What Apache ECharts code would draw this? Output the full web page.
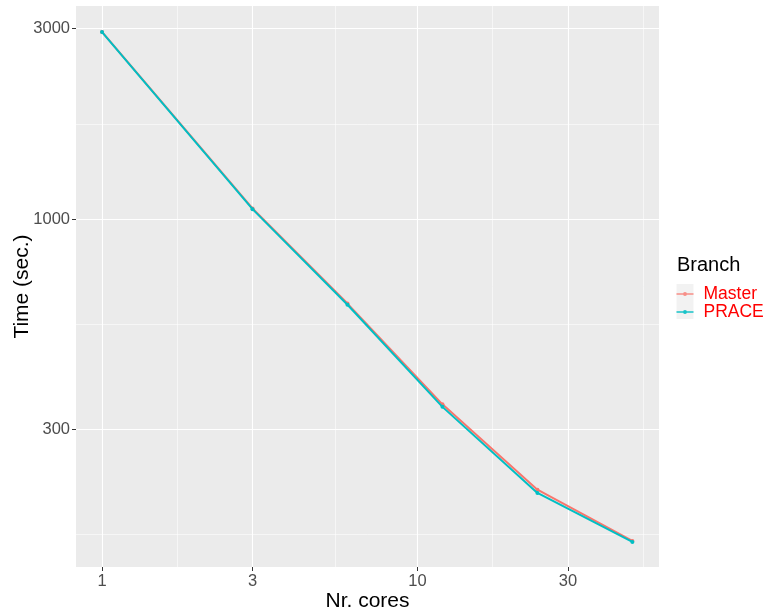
<!DOCTYPE html>
<html><head><meta charset="utf-8">
<script src="https://cdn.jsdelivr.net/npm/echarts@6/dist/echarts.min.js"></script>
<style>html,body{margin:0;padding:0;background:#fff}#c{width:768px;height:614px}</style>
</head><body><div id="c"></div>
<script>
const cores = [1, 3, 6, 12, 24, 48];
const master = [2935, 1065, 617, 346, 212, 158];
const prace = [2931, 1061, 613, 341, 208, 157];
const xTicks = [1, 3, 10, 30];
const yTicks = [300, 1000, 3000];
const xMinor = [1.732, 5.477, 17.32, 51.96];
const yMinor = [164.3, 547.7, 1732];

const keyIcon = 'path://M0,1.25H17V2.75H0Z M10.5,2A2,2 0 1 1 6.5,2A2,2 0 1 1 10.5,2Z';
const chart = echarts.init(document.getElementById('c'));
chart.setOption({
  animation: false,
  backgroundColor: '#ffffff',
  grid: {left: 76, right: 109, top: 6, bottom: 47, show: true, backgroundColor: '#EBEBEB', borderWidth: 0, outerBoundsMode: 'none', containLabel: false},
  xAxis: {
    type: 'log', logBase: 10, min: 0.827, max: 58.3,
    name: 'Nr. cores', nameLocation: 'middle', nameGap: 24, nameMoveOverlap: false,
    nameTextStyle: {fontSize: 21, color: '#000', fontFamily: 'Liberation Sans'},
    axisLine: {show: false},
    axisTick: {show: true, length: 4, lineStyle: {color: '#333', width: 1}, customValues: xTicks},
    axisLabel: {customValues: xTicks, fontSize: 16.5, color: '#4D4D4D', margin: 6, fontFamily: 'Liberation Sans', formatter: v => String(Math.round(v))},
    splitLine: {show: true, lineStyle: {color: '#fff', width: 1.1}}
  },
  yAxis: {
    type: 'log', logBase: 10, min: 136, max: 3405,
    name: 'Time (sec.)', nameLocation: 'middle', nameGap: 43, nameMoveOverlap: false,
    nameTextStyle: {fontSize: 21, color: '#000', fontFamily: 'Liberation Sans'},
    axisLine: {show: false},
    axisTick: {show: true, length: 4, lineStyle: {color: '#333', width: 1}, customValues: yTicks},
    axisLabel: {customValues: yTicks, fontSize: 16.5, color: '#4D4D4D', margin: 6, fontFamily: 'Liberation Sans', formatter: v => String(Math.round(v))},
    splitLine: {show: true, lineStyle: {color: '#fff', width: 1.1}}
  },
  legend: {
    orient: 'vertical', left: 676.5, top: 285, itemWidth: 17, itemHeight: 4, itemGap: 0,
    padding: 0,
    textStyle: {color: '#FF0000', fontSize: 17.5, lineHeight: 17.3, fontFamily: 'Liberation Sans', padding: [0, 0, 0, 5]},
    data: [
      {name: 'Master', icon: keyIcon, itemStyle: {color: '#F8766D', opacity: 0.8}},
      {name: 'PRACE', icon: keyIcon, itemStyle: {color: '#00BFC4', opacity: 0.9}}
    ]
  },
  graphic: [
    {type: 'rect', left: 676.5, top: 284, shape: {width: 17, height: 35}, style: {fill: '#F2F2F2'}, z: -1, silent: true},
    {type: 'text', left: 677, top: 255, style: {text: 'Branch', fontSize: 20, fill: '#000', fontFamily: 'Liberation Sans'}}
  ],
  series: [
    {
      type: 'line', name: '_grid', data: [], z: 1, silent: true,
      markLine: {
        silent: true, symbol: 'none', label: {show: false}, animation: false, z: 1,
        lineStyle: {color: '#fff', width: 0.55, type: 'solid'},
        emphasis: {disabled: true},
        data: xMinor.map(v => ({xAxis: v})).concat(yMinor.map(v => ({yAxis: v})))
      }
    },
    {
      type: 'line', name: 'Master', z: 3,
      data: cores.map((c, i) => [c, master[i]]),
      symbol: 'circle', symbolSize: 4, showSymbol: true,
      lineStyle: {color: '#F8766D', width: 2}, itemStyle: {color: '#F8766D'}
    },
    {
      type: 'line', name: 'PRACE', z: 4,
      data: cores.map((c, i) => [c, prace[i]]),
      symbol: 'circle', symbolSize: 4, showSymbol: true,
      lineStyle: {color: '#00BFC4', width: 2}, itemStyle: {color: '#00BFC4'}
    }
  ]
});
</script></body></html>
